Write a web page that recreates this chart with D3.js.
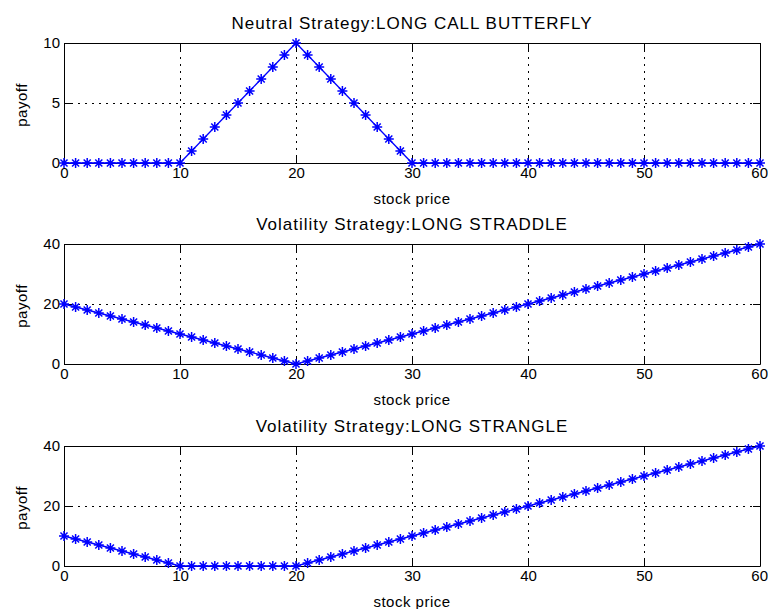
<!DOCTYPE html>
<html>
<head>
<meta charset="utf-8">
<script src="https://cdn.jsdelivr.net/npm/d3@7"></script>
<style>
  body { margin: 0; background: #fff; }
  svg { display: block; font-family: "Liberation Sans", Arial, sans-serif; }
</style>
</head>
<body>
<div id="chart"></div>
<script>
// stock price values (x axis), one point per integer price
const stockPrice = [0,1,2,3,4,5,6,7,8,9,10,11,12,13,14,15,16,17,18,19,20,
  21,22,23,24,25,26,27,28,29,30,31,32,33,34,35,36,37,38,39,40,
  41,42,43,44,45,46,47,48,49,50,51,52,53,54,55,56,57,58,59,60];

const butterflyPayoff = [0,0,0,0,0,0,0,0,0,0,0,1,2,3,4,5,6,7,8,9,10,
  9,8,7,6,5,4,3,2,1,0,0,0,0,0,0,0,0,0,0,0,
  0,0,0,0,0,0,0,0,0,0,0,0,0,0,0,0,0,0,0,0];

const straddlePayoff = [20,19,18,17,16,15,14,13,12,11,10,9,8,7,6,5,4,3,2,1,0,
  1,2,3,4,5,6,7,8,9,10,11,12,13,14,15,16,17,18,19,20,
  21,22,23,24,25,26,27,28,29,30,31,32,33,34,35,36,37,38,39,40];

const stranglePayoff = [10,9,8,7,6,5,4,3,2,1,0,0,0,0,0,0,0,0,0,0,0,
  1,2,3,4,5,6,7,8,9,10,11,12,13,14,15,16,17,18,19,20,
  21,22,23,24,25,26,27,28,29,30,31,32,33,34,35,36,37,38,39,40];

const titles = ["Neutral Strategy:LONG CALL BUTTERFLY",
  "Volatility Strategy:LONG STRADDLE",
  "Volatility Strategy:LONG STRANGLE"];
const xTicks = [0, 10, 20, 30, 40, 50, 60];
const yTicks = [[0, 5, 10], [0, 20, 40], [0, 20, 40]];
const yMax = [10, 40, 40];
const series = [butterflyPayoff, straddlePayoff, stranglePayoff];

const width = 768, height = 609;
const left = 64, right = 760;
const tops = [43, 244, 446];
const plotH = 120;
const tickLen = 7;

const svg = d3.select("#chart").append("svg")
  .attr("width", width)
  .attr("height", height);

const x = d3.scaleLinear().domain([0, 60]).range([left, right]);

// MATLAB style asterisk: plus + cross
const star = r => {
  const d = r * 0.7071;
  return `M${-r},0L${r},0M0,${-r}L0,${r}M${-d},${-d}L${d},${d}M${-d},${d}L${d},${-d}`;
};

series.forEach((vals, i) => {
  const top = tops[i], bottom = top + plotH;
  const y = d3.scaleLinear().domain([0, yMax[i]]).range([bottom, top]);
  const g = svg.append("g");

  // dotted grid
  g.append("g").selectAll("line")
    .data(xTicks.slice(1, -1))
    .join("line")
    .attr("x1", d => x(d)).attr("x2", d => x(d))
    .attr("y1", top).attr("y2", bottom)
    .attr("stroke", "#000").attr("stroke-dasharray", "1.5,5.5")
    .attr("shape-rendering", "crispEdges");
  g.append("g").selectAll("line")
    .data(yTicks[i].slice(1, -1))
    .join("line")
    .attr("y1", d => y(d)).attr("y2", d => y(d))
    .attr("x1", left).attr("x2", right)
    .attr("stroke", "#000").attr("stroke-dasharray", "1.5,5.5")
    .attr("shape-rendering", "crispEdges");

  // axes with inward ticks
  const bottomAxis = g.append("g")
    .attr("transform", `translate(0,${bottom})`)
    .call(d3.axisBottom(x).tickValues(xTicks).tickSizeInner(-tickLen).tickSizeOuter(0).tickPadding(3));
  const topAxis = g.append("g")
    .attr("transform", `translate(0,${top})`)
    .call(d3.axisTop(x).tickValues(xTicks).tickSizeInner(-tickLen).tickSizeOuter(0).tickFormat(""));
  const leftAxis = g.append("g")
    .attr("transform", `translate(${left},0)`)
    .call(d3.axisLeft(y).tickValues(yTicks[i]).tickSizeInner(-tickLen).tickSizeOuter(0).tickPadding(4));
  const rightAxis = g.append("g")
    .attr("transform", `translate(${right},0)`)
    .call(d3.axisRight(y).tickValues(yTicks[i]).tickSizeInner(-tickLen).tickSizeOuter(0).tickFormat(""));
  [bottomAxis, topAxis, leftAxis, rightAxis].forEach(a => {
    a.select(".domain").attr("stroke", "#000");
    a.selectAll(".tick line").attr("stroke", "#000");
    a.selectAll("text").attr("fill", "#000").style("font-size", "15px")
      .style("font-family", "'Liberation Sans', Arial, sans-serif");
  });
  bottomAxis.selectAll("text").attr("dy", "0.8em");
  // last label sits right at the figure edge, as in the original
  bottomAxis.selectAll(".tick").filter(d => d === 60).select("text")
    .attr("text-anchor", "end").attr("x", 7.5);

  // title and labels
  g.append("text")
    .attr("x", (left + right) / 2).attr("y", top - 14)
    .attr("text-anchor", "middle")
    .style("font-size", "17px")
    .style("letter-spacing", "1px")
    .text(titles[i]);
  g.append("text")
    .attr("x", (left + right) / 2).attr("y", bottom + 41)
    .attr("text-anchor", "middle")
    .style("font-size", "15px")
    .style("letter-spacing", "0.5px")
    .text("stock price");
  g.append("text")
    .attr("transform", `translate(27,${(top + bottom) / 2 + 2}) rotate(-90)`)
    .attr("text-anchor", "middle")
    .style("font-size", "15px")
    .style("letter-spacing", "0.5px")
    .text("payoff");

  // data line and markers
  const pts = stockPrice.map((p, j) => [p, vals[j]]);
  g.append("path")
    .datum(pts)
    .attr("fill", "none")
    .attr("stroke", "#0000ff")
    .attr("stroke-width", 1.3)
    .attr("d", d3.line().x(d => x(d[0])).y(d => y(d[1])));
  g.append("g").selectAll("path")
    .data(pts)
    .join("path")
    .attr("transform", d => `translate(${x(d[0])},${y(d[1])})`)
    .attr("d", star(5))
    .attr("fill", "none")
    .attr("stroke", "#0000ff")
    .attr("stroke-width", 1.5);
});
</script>
</body>
</html>
